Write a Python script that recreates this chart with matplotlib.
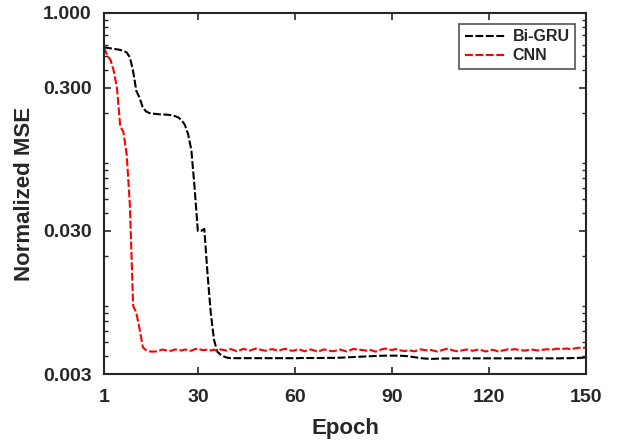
import matplotlib
matplotlib.use("Agg")
import matplotlib.pyplot as plt
from matplotlib.ticker import FixedLocator, LogLocator, NullFormatter, FixedFormatter

plt.rcParams['font.family'] = ['Liberation Sans', 'DejaVu Sans']
plt.rcParams['font.weight'] = 'bold'

epochs = list(range(1, 151))

bigru = [
    0.575, 0.570, 0.566, 0.562, 0.557, 0.552, 0.543, 0.530, 0.490, 0.390,
    0.285, 0.255, 0.218, 0.205, 0.200, 0.198, 0.197, 0.196, 0.195, 0.195,
    0.194, 0.193, 0.190, 0.186, 0.178, 0.165, 0.142, 0.110, 0.060, 0.0300,
    0.0300, 0.0310, 0.0150, 0.0080, 0.0052, 0.00430, 0.00410, 0.00398, 0.00390, 0.00388,
    0.00387, 0.00387, 0.00387, 0.00387, 0.00387, 0.00387, 0.00387, 0.00387, 0.00387, 0.00387,
    0.00387, 0.00387, 0.00387, 0.00387, 0.00387, 0.00387, 0.00387, 0.00387, 0.00387, 0.00387,
    0.00387, 0.00388, 0.00388, 0.00388, 0.00388, 0.00388, 0.00388, 0.00388, 0.00389, 0.00389,
    0.00389, 0.00389, 0.00390, 0.00390, 0.00391, 0.00392, 0.00393, 0.00394, 0.00395, 0.00396,
    0.00397, 0.00398, 0.00399, 0.00400, 0.00401, 0.00402, 0.00402, 0.00403, 0.00403, 0.00403,
    0.00403, 0.00403, 0.00402, 0.00401, 0.00399, 0.00396, 0.00393, 0.00390, 0.00387, 0.00385,
    0.00384, 0.00383, 0.00383, 0.00384, 0.00384, 0.00385, 0.00385, 0.00385, 0.00386, 0.00386,
    0.00386, 0.00386, 0.00386, 0.00386, 0.00386, 0.00386, 0.00386, 0.00386, 0.00386, 0.00386,
    0.00386, 0.00386, 0.00386, 0.00386, 0.00386, 0.00386, 0.00386, 0.00386, 0.00386, 0.00386,
    0.00386, 0.00386, 0.00386, 0.00386, 0.00386, 0.00386, 0.00386, 0.00386, 0.00386, 0.00386,
    0.00386, 0.00386, 0.00387, 0.00387, 0.00387, 0.00388, 0.00388, 0.00389, 0.00390, 0.00391,
]

cnn = [
    0.575, 0.505, 0.470, 0.395, 0.300, 0.162, 0.147, 0.103, 0.045, 0.0090,
    0.0080, 0.0062, 0.0046,
    0.00440, 0.00432, 0.00430, 0.00431, 0.00436, 0.00445, 0.00440, 0.00435, 0.00437, 0.00446,
    0.00442, 0.00438, 0.00445, 0.00441, 0.00436, 0.00447, 0.00450, 0.00443, 0.00440, 0.00446,
    0.00438, 0.00444, 0.00436, 0.00446, 0.00441, 0.00437, 0.00448, 0.00442, 0.00433, 0.00440,
    0.00449, 0.00444, 0.00437, 0.00445, 0.00452, 0.00446, 0.00440, 0.00436, 0.00443, 0.00448,
    0.00441, 0.00437, 0.00444, 0.00450, 0.00443, 0.00436, 0.00439, 0.00447, 0.00441, 0.00432,
    0.00441, 0.00445, 0.00438, 0.00429, 0.00437, 0.00446, 0.00441, 0.00435, 0.00433, 0.00439,
    0.00444, 0.00438, 0.00431, 0.00439, 0.00449, 0.00446, 0.00443, 0.00441, 0.00437, 0.00444,
    0.00437, 0.00430, 0.00438, 0.00447, 0.00452, 0.00445, 0.00441, 0.00448, 0.00443, 0.00437,
    0.00434, 0.00441, 0.00436, 0.00432, 0.00440, 0.00446, 0.00441, 0.00438, 0.00442, 0.00436,
    0.00431, 0.00437, 0.00444, 0.00450, 0.00445, 0.00438, 0.00433, 0.00436, 0.00440, 0.00445,
    0.00440, 0.00436, 0.00441, 0.00445, 0.00438, 0.00431, 0.00436, 0.00443, 0.00438, 0.00430,
    0.00437, 0.00442, 0.00447, 0.00444, 0.00448, 0.00443, 0.00440, 0.00437, 0.00441, 0.00446,
    0.00442, 0.00438, 0.00441, 0.00444, 0.00447, 0.00443, 0.00446, 0.00451, 0.00448, 0.00450,
    0.00452, 0.00448, 0.00451, 0.00455, 0.00458, 0.00456, 0.00460,
]

xticks = [1, 30, 60, 90, 120, 150]
yticks = [0.003, 0.03, 0.3, 1.0]
ytick_labels = ['0.003', '0.030', '0.300', '1.000']

dark = '#262626'

fig = plt.figure(figsize=(6.17, 4.40), dpi=100)
ax = fig.add_axes([0.1686, 0.15, 0.7812, 0.8205])

dash = (3.8, 1.2)
ax.plot(epochs, bigru, color='black', linewidth=1.5, linestyle=(0, dash), label='Bi-GRU')
ax.plot(epochs, cnn, color='#ff0000', linewidth=1.5, linestyle=(0, dash), label='CNN')

ax.set_yscale('log')
ax.set_xlim(1, 150)
ax.set_ylim(0.003, 1.0)

ax.xaxis.set_major_locator(FixedLocator(xticks))
ax.set_xticklabels([str(t) for t in xticks])
ax.yaxis.set_major_locator(FixedLocator(yticks))
ax.yaxis.set_major_formatter(FixedFormatter(ytick_labels))
ax.yaxis.set_minor_locator(LogLocator(base=10, subs=[2, 3, 4, 5, 6, 7, 8, 9]))
ax.yaxis.set_minor_formatter(NullFormatter())

for s in ax.spines.values():
    s.set_linewidth(1.5)
    s.set_color(dark)

ax.tick_params(axis='both', which='major', direction='in', length=5, width=1.2,
               top=True, right=True, colors=dark, labelsize=14)
ax.tick_params(axis='x', which='major', pad=10.5)
ax.tick_params(axis='y', which='major', pad=9)
ax.tick_params(axis='y', which='minor', direction='in', length=3, width=1.0,
               left=True, right=True, colors=dark)
ax.tick_params(axis='x', which='minor', bottom=False, top=False)
for lbl in ax.get_xticklabels() + ax.get_yticklabels():
    lbl.set_fontweight('bold')
    lbl.set_color(dark)

ax.set_xlabel('Epoch', fontsize=16, fontweight='bold', color=dark, labelpad=9)
ax.set_ylabel('Normalized MSE', fontsize=16, fontweight='bold', color=dark, labelpad=6)

leg = ax.legend(loc='upper right', bbox_to_anchor=(0.978, 0.97), fontsize=11.5,
                frameon=True, fancybox=False, handlelength=2.6, handletextpad=0.4,
                borderpad=0.35, labelspacing=0.25, borderaxespad=0.0)
leg.get_frame().set_edgecolor(dark)
leg.get_frame().set_linewidth(1.2)
for t in leg.get_texts():
    t.set_fontweight('bold')
    t.set_color(dark)

fig.savefig('out.png', dpi=100)
